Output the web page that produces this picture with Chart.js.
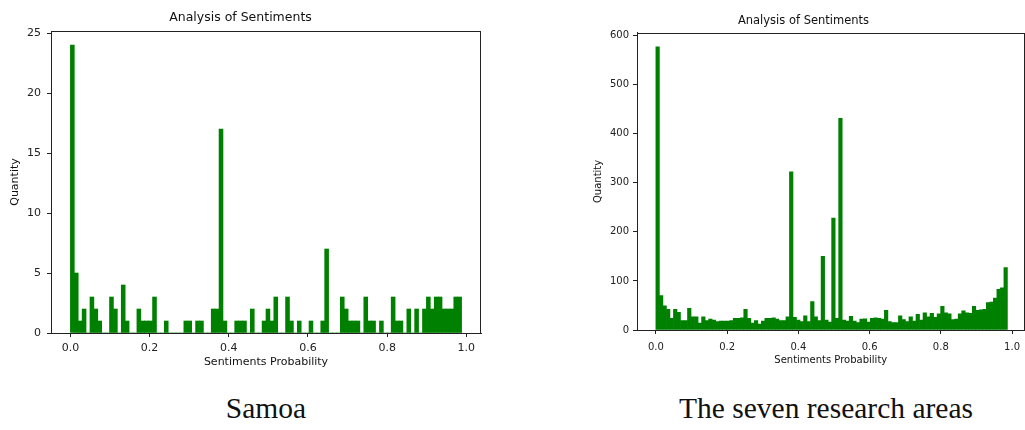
<!DOCTYPE html>
<html>
<head>
<meta charset="utf-8">
<script src="https://cdn.jsdelivr.net/npm/chart.js@4.4.0/dist/chart.umd.min.js"></script>
<style>
    body { margin: 0; background: #fff; width: 1025px; height: 430px; overflow: hidden; position: relative; }
    canvas { position: absolute; top: 0; }
    .caption { position: absolute; top: 392px; font-family: "Liberation Serif", serif; font-size: 29.5px; color: #111; text-align: center; }
</style>
</head>
<body>
<canvas id="samoaChart" width="500" height="380" style="left:0"></canvas>
<canvas id="areasChart" width="447" height="380" style="left:580px"></canvas>
<div class="caption" style="left:146px; width:240px">Samoa</div>
<div class="caption" style="left:676px; width:300px">The seven research areas</div>
<script>
// histogram counts, 100 bins over the sentiment probability
const samoaCounts = [
    24, 5, 1, 2, 0, 3, 2, 1, 0, 0,
    3, 2, 0, 4, 1, 0, 0, 2, 1, 1,
    1, 3, 0, 0, 1, 0, 0, 0, 0, 1,
    1, 0, 1, 1, 0, 0, 2, 2, 17, 1,
    0, 0, 1, 1, 1, 0, 2, 0, 0, 1,
    2, 1, 3, 0, 0, 3, 1, 0, 1, 0,
    0, 1, 0, 0, 1, 7, 0, 0, 0, 3,
    2, 1, 1, 1, 0, 3, 1, 1, 0, 1,
    0, 0, 3, 1, 1, 0, 2, 0, 2, 0,
    2, 3, 2, 3, 3, 2, 2, 2, 3, 3
];
const areasCounts = [
    577, 70, 49, 42, 24, 42, 36, 19, 19, 44,
    27, 27, 14, 27, 19, 22, 20, 17, 18, 18,
    18, 19, 24, 24, 25, 42, 24, 14, 19, 12,
    18, 24, 24, 25, 22, 19, 19, 27, 322, 26,
    20, 17, 29, 17, 58, 27, 19, 150, 20, 16,
    228, 24, 431, 20, 18, 28, 18, 15, 22, 23,
    16, 24, 25, 24, 22, 40, 17, 15, 15, 29,
    21, 17, 27, 18, 32, 20, 35, 27, 34, 26,
    33, 48, 35, 33, 21, 22, 33, 39, 35, 34,
    48, 40, 41, 42, 56, 57, 65, 83, 86, 127
];
const samoaBinWidth = 0.00988;
const areasBinWidth = 0.00987;
const xTickValues = [0, 0.2, 0.4, 0.6, 0.8, 1.0];
const samoaYTicks = [0, 5, 10, 15, 20, 25];
const areasYTicks = [0, 100, 200, 300, 400, 500, 600];

Chart.defaults.font.family = "DejaVu Sans";
Chart.defaults.color = "#222";

const frame = {
    id: 'frame',
    afterDraw(chart) {
        const a = chart.chartArea;
        const ctx = chart.ctx;
        ctx.save();
        ctx.strokeStyle = '#222';
        ctx.lineWidth = 1;
        ctx.strokeRect(Math.round(a.left) + 0.5, Math.round(a.top) + 0.5,
            Math.round(a.right - a.left) - 1, Math.round(a.bottom - a.top));
        ctx.restore();
    }
};

const toPoints = function(counts, binWidth) {
    return counts.map(function(c, i) {
        return {x: (i + 0.5) * binWidth, y: c};
    });
};

const createChart = function(id, counts, binWidth, yTicks, s) {
    const ctx = document.getElementById(id).getContext('2d');
    return new Chart(ctx, {
        type: 'bar',
        data: {
            datasets: [{
                data: toPoints(counts, binWidth),
                backgroundColor: '#008000',
                borderWidth: 0,
                barPercentage: 1,
                categoryPercentage: 1
            }]
        },
        plugins: [frame],
        options: {
            responsive: false,
            animation: false,
            layout: {padding: {left: 0, right: s.padRight, top: 0, bottom: 0}},
            plugins: {
                legend: {display: false},
                tooltip: {enabled: false},
                title: {
                    display: true,
                    text: 'Analysis of Sentiments',
                    color: '#111',
                    font: {size: s.titleSize, weight: 'normal', lineHeight: 1.2},
                    padding: {top: s.titleTop, bottom: s.titleBottom}
                }
            },
            scales: {
                x: {
                    type: 'linear',
                    min: s.xMin,
                    max: s.xMax,
                    offset: false,
                    afterFit: function(scale) { scale.height = s.xAxisHeight; },
                    afterBuildTicks: function(scale) {
                        scale.ticks = xTickValues.map(v => ({value: v}));
                    },
                    grid: {display: true, offset: false, drawOnChartArea: false, drawTicks: true, tickLength: 4, color: '#222'},
                    border: {display: true, color: '#222'},
                    ticks: {
                        padding: s.xTickPad,
                        font: {size: s.tickSize},
                        callback: v => v.toFixed(1),
                        maxRotation: 0
                    },
                    title: {
                        display: true,
                        text: 'Sentiments Probability',
                        color: '#111',
                        font: {size: s.labelSize},
                        padding: {top: 0, bottom: s.xTitleBottom}
                    }
                },
                y: {
                    min: 0,
                    max: s.yMax,
                    afterFit: function(scale) { scale.width = s.yAxisWidth; },
                    afterBuildTicks: function(scale) {
                        scale.ticks = yTicks.map(v => ({value: v}));
                    },
                    grid: {display: true, drawOnChartArea: false, drawTicks: true, tickLength: 4, color: '#222'},
                    border: {display: true, color: '#222'},
                    ticks: {padding: s.yTickPad, font: {size: s.tickSize}},
                    title: {
                        display: true,
                        text: 'Quantity',
                        color: '#111',
                        font: {size: s.labelSize},
                        padding: {top: s.yTitleTop, bottom: 0}
                    }
                }
            }
        }
    });
};

createChart('samoaChart', samoaCounts, samoaBinWidth, samoaYTicks, {
    padRight: 19, titleSize: 12.5, titleTop: 10, titleBottom: 6,
    xMin: -0.049, xMax: 1.037, xAxisHeight: 47, xTickPad: 5, xTitleBottom: 11,
    yMax: 25.17, yAxisWidth: 51, yTickPad: 6, yTitleTop: 9,
    tickSize: 11, labelSize: 11
});

createChart('areasChart', areasCounts, areasBinWidth, areasYTicks, {
    padRight: 0, titleSize: 11.5, titleTop: 14, titleBottom: 5,
    xMin: -0.053, xMax: 1.035, xAxisHeight: 50, xTickPad: 7, xTitleBottom: 14,
    yMax: 605.5, yAxisWidth: 57, yTickPad: 4, yTitleTop: 12,
    tickSize: 10, labelSize: 10
});
</script>
</body>
</html>
